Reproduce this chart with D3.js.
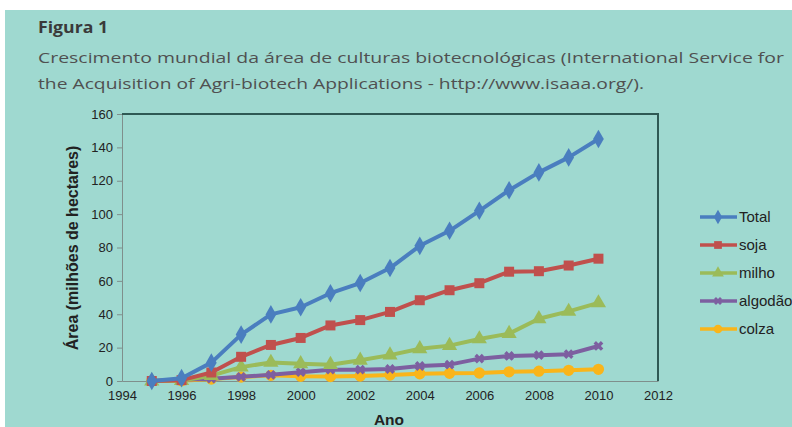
<!DOCTYPE html>
<html>
<head>
<meta charset="utf-8">
<script src="https://cdn.jsdelivr.net/npm/d3@7"></script>
<style>
  body { margin: 0; background: #fff; }
  svg { display: block; }
</style>
</head>
<body>
<div class="graph"></div>
<script>
const years = d3.range(1995, 2011);
const total   = [0, 1.7, 11, 27.8, 39.9, 44.2, 52.6, 58.7, 67.7, 81, 90, 102, 114.3, 125, 134, 145];
const soja    = [0, 0.5, 5.1, 14.5, 21.6, 25.8, 33.3, 36.5, 41.4, 48.4, 54.4, 58.6, 65.5, 65.8, 69.2, 73.3];
const milho   = [0, 0.3, 3.2, 8.3, 11.1, 10.3, 9.8, 12.4, 15.5, 19.3, 21.2, 25.2, 28.4, 37.3, 41.7, 46.8];
const algodao = [0, 0.8, 1.4, 2.5, 3.7, 5.3, 6.8, 6.8, 7.2, 9.0, 9.8, 13.4, 15.0, 15.5, 16.1, 21.0];
const colza   = [0, 0.1, 1.2, 2.4, 3.4, 2.8, 2.7, 3.0, 3.6, 4.3, 4.6, 4.8, 5.5, 5.9, 6.4, 7.0];
const seriesNames = ["Total", "soja", "milho", "algodão", "colza"];
const seriesColors = ["#4a7ebf", "#c0504d", "#9bbb59", "#7d5fa0", "#f9b51a"];
const seriesShapes = [d3.symbolDiamond, d3.symbolSquare, d3.symbolTriangle, d3.symbolCross, d3.symbolCircle];
const xTicks = d3.range(1994, 2013, 2);
const yTicks = d3.range(0, 161, 20);

const seriesData = [total, soja, milho, algodao, colza];

const width = 792, height = 427;
const svg = d3.select(".graph").append("svg")
  .attr("width", width).attr("height", height);

// teal panel
svg.append("rect").attr("x", 5).attr("y", 10)
  .attr("width", width - 5).attr("height", height - 10)
  .attr("fill", "#9fd9d0");

svg.append("text").attr("x", 38).attr("y", 33)
  .attr("font-family", "'Open Sans', sans-serif").attr("font-weight", "bold")
  .attr("font-size", 16).attr("fill", "#3a3a3a")
  .attr("textLength", 70).attr("lengthAdjust", "spacingAndGlyphs").text("Figura 1");
svg.append("text").attr("x", 38).attr("y", 63)
  .attr("font-family", "'Open Sans', sans-serif").attr("font-size", 14.2)
  .attr("fill", "#505050").attr("textLength", 746).attr("lengthAdjust", "spacingAndGlyphs")
  .text("Crescimento mundial da área de culturas biotecnológicas (International Service for");
svg.append("text").attr("x", 38).attr("y", 89)
  .attr("font-family", "'Open Sans', sans-serif").attr("font-size", 14.2)
  .attr("fill", "#505050").attr("textLength", 606).attr("lengthAdjust", "spacingAndGlyphs")
  .text("the Acquisition of Agri-biotech Applications - http://www.isaaa.org/).");

const pLeft = 122, pRight = 658, pTop = 114, pBottom = 381;
const x = d3.scaleLinear().domain([1994, 2012]).range([pLeft, pRight]);
const y = d3.scaleLinear().domain([0, 160]).range([pBottom, pTop]);

const axisFont = "'Liberation Sans', Arial, sans-serif";

// y axis
const yAxis = svg.append("g").attr("transform", `translate(${pLeft},0)`)
  .call(d3.axisLeft(y).tickValues(yTicks).tickSize(5).tickPadding(4));
yAxis.select(".domain").attr("stroke", "#7f8f8c");
yAxis.selectAll(".tick line").attr("stroke", "#7f8f8c");
yAxis.selectAll("text").attr("font-family", axisFont).attr("font-size", 13).attr("fill", "#222");

// x axis
const xAxis = svg.append("g").attr("transform", `translate(0,${pBottom})`)
  .call(d3.axisBottom(x).tickValues(xTicks).tickFormat(d3.format("d")).tickSize(0).tickPadding(10));
xAxis.select(".domain").attr("stroke", "#7f8f8c");
xAxis.selectAll("text").attr("font-family", axisFont).attr("font-size", 13).attr("fill", "#222");

// plot frame top/right
svg.append("path")
  .attr("d", `M${pLeft},${pTop}H${pRight}V${pBottom}`)
  .attr("fill", "none").attr("stroke", "#2e5954").attr("stroke-width", 2);

// axis titles
svg.append("text").attr("transform", `translate(78,248) rotate(-90)`)
  .attr("text-anchor", "middle").attr("font-family", axisFont)
  .attr("font-weight", "bold").attr("font-size", 16).attr("fill", "#222")
  .text("Área (milhões de hectares)");
svg.append("text").attr("x", 389).attr("y", 425)
  .attr("text-anchor", "middle").attr("font-family", axisFont)
  .attr("font-weight", "bold").attr("font-size", 15.5).attr("fill", "#222")
  .text("Ano");

const line = d3.line().x((d, i) => x(years[i])).y(d => y(d));

// draw back to front so Total stays on top
for (let s = seriesData.length - 1; s >= 0; s--) {
  const vals = seriesData[s];
  const g = svg.append("g");
  g.append("path").attr("d", line(vals))
    .attr("fill", "none").attr("stroke", seriesColors[s])
    .attr("stroke-width", 4).attr("stroke-linejoin", "round");
  const isCross = s === 3;
  g.selectAll("path.m").data(vals).enter().append("path")
    .attr("class", "m")
    .attr("transform", (d, i) => `translate(${x(years[i])},${y(d)})` + (isCross ? " rotate(45)" : ""))
    .attr("d", d3.symbol().type(seriesShapes[s]).size(isCross ? 60 : 100))
    .attr("fill", seriesColors[s]);
}

// legend
const legend = svg.append("g");
seriesNames.forEach((name, i) => {
  const ly = 217 + i * 28;
  legend.append("line").attr("x1", 700).attr("x2", 737).attr("y1", ly).attr("y2", ly)
    .attr("stroke", seriesColors[i]).attr("stroke-width", 3.5);
  legend.append("path").attr("transform", `translate(718,${ly})` + (i === 3 ? " rotate(45)" : ""))
    .attr("d", d3.symbol().type(seriesShapes[i]).size(i === 3 ? 40 : 60))
    .attr("fill", seriesColors[i]);
  legend.append("text").attr("x", 739).attr("y", ly + 5)
    .attr("font-family", axisFont).attr("font-size", 15).attr("fill", "#222")
    .text(name);
});
</script>
</body>
</html>
